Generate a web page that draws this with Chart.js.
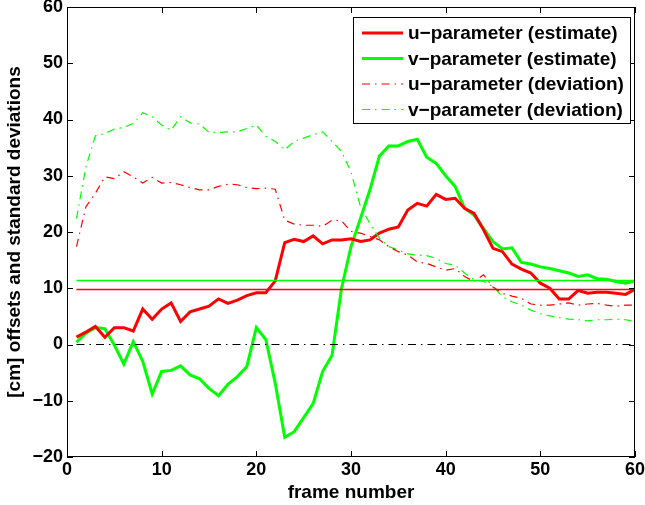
<!DOCTYPE html>
<html>
<head>
<meta charset="utf-8">
<script src="https://cdn.jsdelivr.net/npm/chart.js@4.4.1/dist/chart.umd.min.js"></script>
<style>
  html, body { margin: 0; padding: 0; background: #fff; }
  #wrap { width: 645px; height: 505px; }
</style>
</head>
<body>
<div id="wrap"><canvas id="myChart" width="645" height="505"></canvas></div>
<script>
// frame numbers
const frames = [1, 2, 3, 4, 5, 6, 7, 8, 9, 10,
  11, 12, 13, 14, 15, 16, 17, 18, 19, 20,
  21, 22, 23, 24, 25, 26, 27, 28, 29, 30,
  31, 32, 33, 34, 35, 36, 37, 38, 39, 40,
  41, 42, 43, 44, 45, 46, 47, 48, 49, 50,
  51, 52, 53, 54, 55, 56, 57, 58, 59, 60];

const uEstimate = [1.3, 2.2, 3.2, 1.3, 3.0, 3.0, 2.4, 6.3, 4.5, 6.3,
  7.4, 4.1, 5.8, 6.3, 6.8, 8.1, 7.3, 7.9, 8.7, 9.2,
  9.2, 11.3, 18.1, 18.7, 18.3, 19.3, 17.9, 18.6, 18.6, 18.8,
  18.3, 18.6, 19.8, 20.5, 20.9, 23.9, 25.1, 24.6, 26.7, 25.8,
  26.0, 24.2, 23.3, 20.4, 17.1, 16.5, 14.3, 13.4, 12.7, 10.9,
  10.0, 8.1, 8.1, 9.6, 9.1, 9.3, 9.3, 9.1, 8.9, 9.8];

const vEstimate = [0.4, 2.0, 3.0, 2.8, -0.1, -3.5, 0.5, -3.0, -8.8, -4.8,
  -4.6, -3.8, -5.4, -6.1, -7.8, -9.1, -7.1, -5.7, -3.9, 3.0,
  0.9, -6.9, -16.5, -15.5, -13.0, -10.5, -4.8, -1.9, 10.0, 17.4,
  22.4, 27.5, 33.5, 35.3, 35.3, 36.1, 36.5, 33.3, 32.2, 30.0,
  28.1, 24.2, 23.0, 20.6, 18.3, 17.0, 17.2, 14.6, 14.3, 13.8,
  13.5, 13.1, 12.7, 12.1, 12.4, 11.7, 11.6, 11.2, 10.9, 11.3];

const uDeviation = [17.4, 24.5, 26.9, 29.8, 29.5, 30.7, 29.8, 28.7, 29.7, 28.7,
  28.8, 28.4, 27.9, 27.5, 27.5, 28.1, 28.5, 28.4, 27.9, 27.7,
  27.8, 27.6, 22.1, 21.4, 21.2, 21.2, 21.0, 22.1, 22.0, 20.1,
  19.8, 19.2, 18.6, 17.4, 16.5, 15.9, 14.7, 14.4, 13.8, 13.2,
  13.5, 12.1, 11.2, 12.4, 10.2, 9.1, 8.6, 8.2, 7.2, 7.0,
  7.0, 7.2, 7.4, 7.0, 7.2, 7.3, 7.0, 6.8, 7.0, 7.0];

const vDeviation = [22.4, 31.6, 37.1, 37.5, 38.3, 38.6, 39.3, 41.2, 40.5, 39.0,
  38.1, 40.5, 39.4, 39.2, 37.7, 37.7, 37.8, 37.8, 38.4, 39.0,
  37.0, 36.1, 34.6, 36.1, 36.7, 37.3, 37.8, 36.1, 34.3, 30.7,
  24.5, 21.5, 18.9, 17.4, 16.8, 16.1, 15.9, 15.8, 15.3, 14.4,
  14.1, 12.7, 11.5, 11.2, 10.3, 8.5, 7.6, 7.0, 6.1, 5.5,
  5.1, 4.8, 4.5, 4.4, 4.2, 4.4, 4.4, 4.5, 4.4, 4.1];

// mean levels and the zero reference, drawn from first to last frame
const uMean = 9.8;
const vMean = 11.4;
const zeroLevel = 0;

const xTicks = [0, 10, 20, 30, 40, 50, 60];
const yTicks = [-20, -10, 0, 10, 20, 30, 40, 50, 60];

const legendLabels = ['u\u2212parameter (estimate)', 'v\u2212parameter (estimate)',
  'u\u2212parameter (deviation)', 'v\u2212parameter (deviation)'];

function pts(ys) {
  return frames.map(function (f, i) { return { x: f, y: ys[i] }; });
}
function level(v) {
  return [{ x: frames[0], y: v }, { x: frames[frames.length - 1], y: v }];
}

const RED = '#ff0000';
const GREEN = '#00ff00';
const DASHDOT = [8, 5, 1.5, 5];
const FONT = '"Liberation Sans", Arial, Helvetica, sans-serif';

// box round the axes, with inward ticks on all four sides (matlab look)
const frameBox = {
  id: 'frameBox',
  afterDraw(chart) {
    const c = chart.ctx;
    const a = chart.chartArea;
    const xs = chart.scales.x, ys = chart.scales.y;
    c.save();
    c.strokeStyle = '#000';
    c.lineWidth = 1;
    c.strokeRect(a.left + 0.5, a.top + 0.5, a.right - a.left - 1, a.bottom - a.top - 1);
    c.beginPath();
    xTicks.forEach(function (t) {
      const px = Math.round(xs.getPixelForValue(t)) + 0.5;
      c.moveTo(px, a.bottom); c.lineTo(px, a.bottom - 6);
      c.moveTo(px, a.top); c.lineTo(px, a.top + 6);
    });
    yTicks.forEach(function (t) {
      const py = Math.round(ys.getPixelForValue(t)) + 0.5;
      c.moveTo(a.left, py); c.lineTo(a.left + 6, py);
      c.moveTo(a.right, py); c.lineTo(a.right - 6, py);
    });
    c.stroke();

    // legend
    const lx = 353, ly = 17, lw = 277, lh = 106;
    c.fillStyle = '#fff';
    c.fillRect(lx, ly, lw, lh);
    c.strokeRect(lx + 0.5, ly + 0.5, lw, lh);
    const styles = [
      { color: RED, width: 3, dash: [] },
      { color: GREEN, width: 3, dash: [] },
      { color: RED, width: 1.2, dash: DASHDOT },
      { color: GREEN, width: 1.2, dash: DASHDOT }
    ];
    c.font = 'bold 19px ' + FONT;
    c.textBaseline = 'middle';
    c.textAlign = 'left';
    legendLabels.forEach(function (lab, i) {
      const y = ly + 16 + i * 25.5;
      c.setLineDash(styles[i].dash);
      c.strokeStyle = styles[i].color;
      c.lineWidth = styles[i].width;
      c.beginPath();
      c.moveTo(362, y); c.lineTo(403, y);
      c.stroke();
      c.setLineDash([]);
      c.fillStyle = '#000';
      c.fillText(lab, 408, y + 1);
    });
    c.restore();
  }
};

const ctx = document.getElementById('myChart').getContext('2d');
const myChart = new Chart(ctx, {
  type: 'line',
  data: {
    datasets: [
      { data: level(zeroLevel), borderColor: '#000', borderWidth: 1.2, borderDash: DASHDOT },
      { data: level(uMean), borderColor: RED, borderWidth: 1.5 },
      { data: level(vMean), borderColor: GREEN, borderWidth: 1.5 },
      { data: pts(uDeviation), borderColor: RED, borderWidth: 1.2, borderDash: DASHDOT },
      { data: pts(vDeviation), borderColor: GREEN, borderWidth: 1.2, borderDash: DASHDOT },
      { data: pts(uEstimate), borderColor: RED, borderWidth: 3 },
      { data: pts(vEstimate), borderColor: GREEN, borderWidth: 3 }
    ]
  },
  options: {
    responsive: false,
    animation: false,
    devicePixelRatio: 1,
    elements: { point: { radius: 0 }, line: { tension: 0, borderCapStyle: 'butt' } },
    layout: { padding: { left: 0, top: 7, right: 10, bottom: 0 } },
    plugins: { legend: { display: false }, tooltip: { enabled: false } },
    scales: {
      x: {
        type: 'linear', min: 0, max: 60,
        grid: { display: false, drawTicks: false },
        border: { display: false },
        afterBuildTicks: function (s) { s.ticks = xTicks.map(function (v) { return { value: v }; }); },
        ticks: { color: '#000', font: { family: FONT, size: 18, weight: 'bold' }, padding: 2, maxRotation: 0, autoSkip: false },
        title: { display: true, text: 'frame number', color: '#000', font: { family: FONT, size: 19, weight: 'bold' }, padding: { top: 0, bottom: 1 } },
        afterFit: function (s) { s.height = 48; s.paddingLeft = 0; s.paddingRight = 0; }
      },
      y: {
        min: -20, max: 60,
        grid: { display: false, drawTicks: false },
        border: { display: false },
        afterBuildTicks: function (s) { s.ticks = yTicks.map(function (v) { return { value: v }; }); },
        ticks: { color: '#000', font: { family: FONT, size: 18, weight: 'bold' }, padding: 4,
          callback: function (v) { return v < 0 ? '\u2212' + Math.abs(v) : String(v); } },
        title: { display: true, text: '[cm] offsets and standard deviations', color: '#000', font: { family: FONT, size: 19, weight: 'bold' }, padding: { top: 3, bottom: 0 } },
        afterFit: function (s) { s.width = 67; s.paddingTop = 0; s.paddingBottom = 0; }
      }
    }
  },
  plugins: [frameBox]
});
</script>
</body>
</html>
